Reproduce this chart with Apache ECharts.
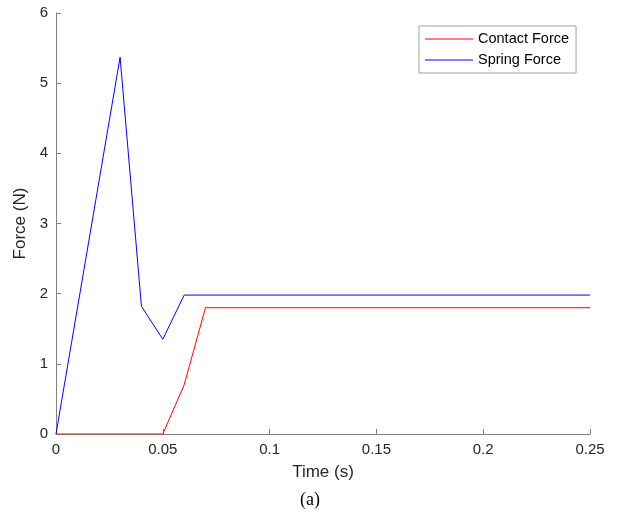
<!DOCTYPE html>
<html>
<head>
<meta charset="utf-8">
<script src="https://cdn.jsdelivr.net/npm/echarts@6/dist/echarts.min.js"></script>
<style>
html,body{margin:0;padding:0;background:#fff;}
#c{width:620px;height:523px;}
</style>
</head>
<body>
<div id="c"></div>
<script>
const contactTime = [0, 0.05, 0.06, 0.07, 0.25];
const contactForce = [0, 0, 0.70, 1.80, 1.80];
const springTime = [0, 0.03, 0.04, 0.05, 0.06, 0.25];
const springForce = [0, 5.37, 1.82, 1.35, 1.98, 1.98];
const xTicks = [0, 0.05, 0.1, 0.15, 0.2, 0.25];
const yTicks = [0, 1, 2, 3, 4, 5, 6];

const chart = echarts.init(document.getElementById('c'), null, {renderer: 'canvas'});
const font = 'Liberation Sans, Arial, sans-serif';
const textColor = '#262626';
const axisColor = '#808080';

chart.setOption({
  animation: false,
  backgroundColor: '#fff',
  grid: {left: 56, right: 30, top: 13, bottom: 89, containLabel: false},
  legend: {
    left: 419, top: 26, orient: 'vertical',
    data: ['Contact Force', 'Spring Force'],
    icon: 'rect', itemWidth: 48, itemHeight: 1.2, itemGap: 5,
    padding: [5, 7, 5, 6],
    borderColor: '#a0a0a0', borderWidth: 1,
    textStyle: {fontFamily: font, fontSize: 14.5, color: '#000', lineHeight: 16}
  },
  xAxis: {
    type: 'value', min: 0, max: 0.25, interval: 0.05,
    name: 'Time (s)', nameLocation: 'middle', nameGap: 30,
    nameTextStyle: {fontFamily: font, fontSize: 17, color: textColor},
    axisLine: {show: true, lineStyle: {color: axisColor, width: 1}},
    axisTick: {show: true, inside: true, length: 5, lineStyle: {color: axisColor}},
    axisLabel: {fontFamily: font, fontSize: 15, color: textColor, margin: 8,
      formatter: v => String(+v.toFixed(2))},
    splitLine: {show: false}
  },
  yAxis: {
    type: 'value', min: 0, max: 6, interval: 1,
    name: 'Force (N)', nameLocation: 'middle', nameGap: 22, nameRotate: 90,
    nameTextStyle: {fontFamily: font, fontSize: 17, color: textColor},
    axisLine: {show: true, lineStyle: {color: axisColor, width: 1}},
    axisTick: {show: true, inside: true, length: 5, lineStyle: {color: axisColor}},
    axisLabel: {fontFamily: font, fontSize: 15, color: textColor, margin: 8},
    splitLine: {show: false}
  },
  graphic: [{
    type: 'text', left: 'center', top: 491,
    style: {text: '(a)', font: '18px "Liberation Serif", "Times New Roman", serif', fill: '#000'}
  }],
  series: [
    {
      name: 'Contact Force', type: 'line', symbol: 'none', z: 3,
      itemStyle: {color: '#ff0000'},
      lineStyle: {color: '#ff0000', width: 1},
      data: contactTime.map((t, i) => [t, contactForce[i]])
    },
    {
      name: 'Spring Force', type: 'line', symbol: 'none', z: 2,
      itemStyle: {color: '#0000ff'},
      lineStyle: {color: '#0000ff', width: 1},
      data: springTime.map((t, i) => [t, springForce[i]])
    }
  ]
});
</script>
</body>
</html>
